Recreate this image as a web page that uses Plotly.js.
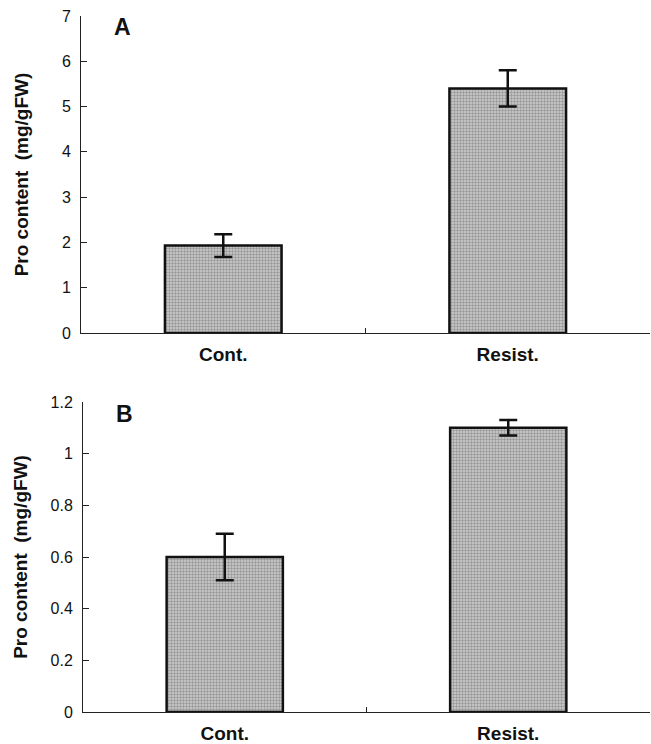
<!DOCTYPE html>
<html>
<head>
<meta charset="utf-8">
<script src="https://cdn.plot.ly/plotly-3.0.1.min.js"></script>
<style>html,body{margin:0;padding:0;background:#fff;}#chart{width:651px;height:744px;}</style>
</head>
<body>
<div id="chart"></div>
<script>
const categories = ["Cont.", "Resist."];
const valuesA = [1.93, 5.40];
const errorsA = [0.25, 0.40];
const valuesB = [0.60, 1.10];
const errorsB = [0.09, 0.03];
const panelLabels = ["A", "B"];
const yTitle = "Pro content  (mg/gFW)";

const barStyle = {
  color: "#b0b0b0",
  line: {color: "#111", width: 2.5},
  pattern: {shape: "+", size: 3, solidity: 0.3, fgcolor: "#8a8a8a", bgcolor: "#c2c2c2"}
};
const errStyle = {type: "data", visible: true, color: "#111", thickness: 2.5, width: 9};

const traces = [
  {type: "bar", x: categories, y: valuesA, xaxis: "x", yaxis: "y", width: 0.41,
   marker: barStyle, error_y: Object.assign({array: errorsA}, errStyle), showlegend: false, hoverinfo: "none"},
  {type: "bar", x: categories, y: valuesB, xaxis: "x2", yaxis: "y2", width: 0.41,
   marker: barStyle, error_y: Object.assign({array: errorsB}, errStyle), showlegend: false, hoverinfo: "none"}
];

const fam = "Liberation Sans, Arial, sans-serif";
const commonX = {
  type: "category", range: [-0.5, 1.5], showline: true, linecolor: "#222", linewidth: 1,
  ticks: "inside", tickson: "boundaries", ticklen: 5, tickcolor: "#222",
  showgrid: false, zeroline: false, fixedrange: true, ticklabelstandoff: 4,
  tickfont: {family: fam, size: 19, color: "#111", weight: "bold"}
};
const commonY = {
  showline: true, linecolor: "#222", linewidth: 1, ticks: "inside", ticklen: 6, tickcolor: "#222",
  showgrid: false, zeroline: false, fixedrange: true, ticklabelstandoff: 6,
  tickfont: {family: fam, size: 16, color: "#111"}
};
const yTitleFont = {family: fam, size: 19, color: "#111", weight: "bold"};

const layout = {
  width: 651, height: 744,
  margin: {l: 81, r: 1, t: 16, b: 32},
  paper_bgcolor: "#fff", plot_bgcolor: "#fff",
  font: {family: fam, color: "#111"},
  xaxis: Object.assign({}, commonX, {domain: [0, 1], anchor: "y"}),
  yaxis: Object.assign({}, commonY, {domain: [0.5445, 1], range: [0, 7], dtick: 1, anchor: "x",
    title: {text: yTitle, standoff: 28, font: yTitleFont}}),
  xaxis2: Object.assign({}, commonX, {domain: [0.0035, 1], anchor: "y2"}),
  yaxis2: Object.assign({}, commonY, {domain: [0, 0.4454], range: [0, 1.2], dtick: 0.2, anchor: "x2",
    title: {text: yTitle, standoff: 17, font: yTitleFont}}),
  annotations: [
    {text: panelLabels[0], xref: "paper", yref: "paper", x: 0.055, y: 0.984, xanchor: "left", yanchor: "middle",
     showarrow: false, font: {family: fam, size: 23, color: "#111", weight: "bold"}},
    {text: panelLabels[1], xref: "paper", yref: "paper", x: 0.058, y: 0.428, xanchor: "left", yanchor: "middle",
     showarrow: false, font: {family: fam, size: 23, color: "#111", weight: "bold"}}
  ]
};

Plotly.newPlot("chart", traces, layout, {displayModeBar: false, staticPlot: true});
</script>
</body>
</html>
